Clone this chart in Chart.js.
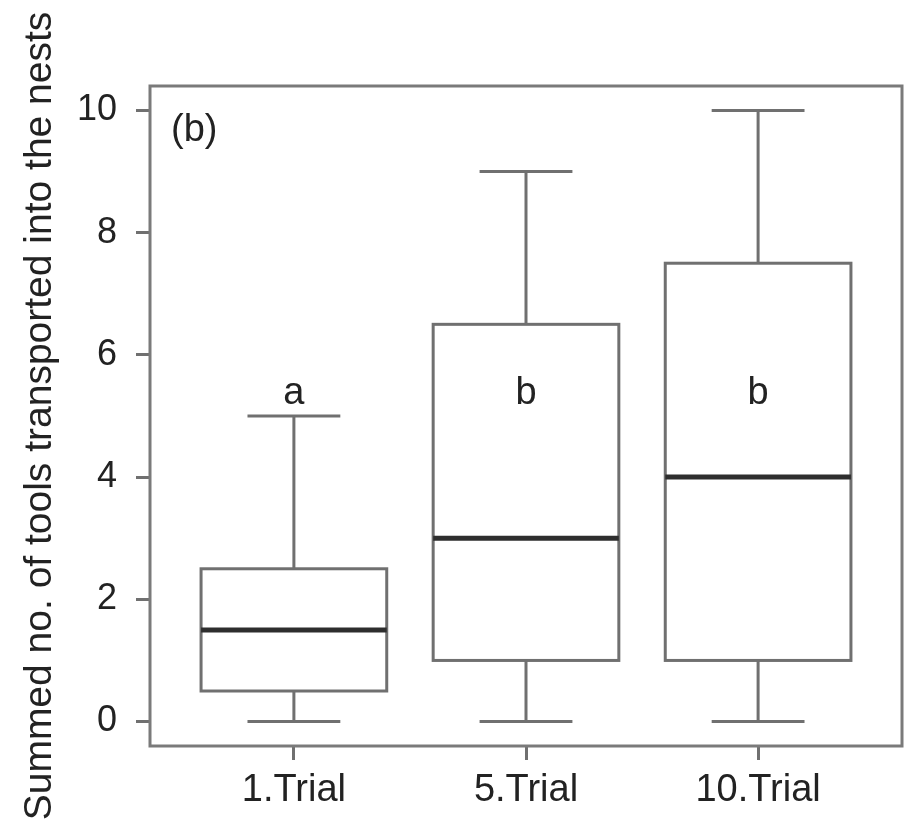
<!DOCTYPE html>
<html>
<head>
<meta charset="utf-8">
<script src="https://cdn.jsdelivr.net/npm/chart.js@4"></script>
<style>
  html, body { margin: 0; padding: 0; background: #fff; }
  #wrap { width: 913px; height: 827px; }
</style>
</head>
<body>
<div id="wrap"><canvas id="boxChart" width="913" height="827"></canvas></div>
<script>
// Chart data
const categories = ['1.Trial', '5.Trial', '10.Trial'];
const whiskerLow = [0, 0, 0];
const quartile1 = [0.5, 1, 1];
const medians = [1.5, 3, 4];
const quartile3 = [2.5, 6.5, 7.5];
const whiskerHigh = [5, 9, 10];
const groupLetters = ['a', 'b', 'b'];
const letterLevel = [5.2, 5.2, 5.2];
const yTicks = [0, 2, 4, 6, 8, 10];
const panelLabel = '(b)';

const FONT = '"Liberation Sans", Arial, sans-serif';
const LINE_GREY = '#707070';
const TEXT_DARK = '#222222';

// Draws boxes, whiskers, frame and letters through the chart scales
const boxPlotPlugin = {
    id: 'boxPlot',
    afterDatasetsDraw(chart) {
        const ctx = chart.ctx;
        const xs = chart.scales.x;
        const ys = chart.scales.y;
        const area = chart.chartArea;
        const halfBox = 0.4;
        const halfCap = 0.2;

        ctx.save();
        ctx.lineCap = 'butt';

        categories.forEach((cat, i) => {
            const pos = i + 1;
            const xc = xs.getPixelForValue(pos);
            const xl = xs.getPixelForValue(pos - halfBox);
            const xr = xs.getPixelForValue(pos + halfBox);
            const cl = xs.getPixelForValue(pos - halfCap);
            const cr = xs.getPixelForValue(pos + halfCap);
            const yLo = ys.getPixelForValue(whiskerLow[i]);
            const yQ1 = ys.getPixelForValue(quartile1[i]);
            const yMed = ys.getPixelForValue(medians[i]);
            const yQ3 = ys.getPixelForValue(quartile3[i]);
            const yHi = ys.getPixelForValue(whiskerHigh[i]);

            ctx.strokeStyle = LINE_GREY;
            ctx.lineWidth = 3;

            // whiskers
            ctx.beginPath();
            ctx.moveTo(xc, yQ1); ctx.lineTo(xc, yLo);
            ctx.moveTo(xc, yQ3); ctx.lineTo(xc, yHi);
            ctx.moveTo(cl, yLo); ctx.lineTo(cr, yLo);
            ctx.moveTo(cl, yHi); ctx.lineTo(cr, yHi);
            ctx.stroke();

            // box
            ctx.strokeRect(xl, yQ3, xr - xl, yQ1 - yQ3);

            // median
            ctx.strokeStyle = '#2e2e2e';
            ctx.lineWidth = 5;
            ctx.beginPath();
            ctx.moveTo(xl, yMed); ctx.lineTo(xr, yMed);
            ctx.stroke();

            // group letter
            ctx.fillStyle = TEXT_DARK;
            ctx.font = '38px ' + FONT;
            ctx.textAlign = 'center';
            ctx.textBaseline = 'alphabetic';
            ctx.fillText(groupLetters[i], xc, ys.getPixelForValue(letterLevel[i]));
        });

        // frame
        ctx.strokeStyle = '#7a7a7a';
        ctx.lineWidth = 3;
        ctx.strokeRect(area.left, area.top, area.right - area.left, area.bottom - area.top);

        // panel label
        ctx.fillStyle = TEXT_DARK;
        ctx.font = '38px ' + FONT;
        ctx.textAlign = 'left';
        ctx.textBaseline = 'middle';
        ctx.fillText(panelLabel, area.left + 21, area.top + 45);

        ctx.restore();
    }
};

function initChart() {
    const ctx = document.getElementById('boxChart').getContext('2d');
    new Chart(ctx, {
        type: 'scatter',
        data: {
            datasets: [{
                data: medians.map((m, i) => ({ x: i + 1, y: m })),
                pointRadius: 0,
                showLine: false
            }]
        },
        options: {
            responsive: false,
            animation: false,
            layout: { padding: { left: 0, right: 11, top: 86, bottom: 0 } },
            plugins: {
                legend: { display: false },
                tooltip: { enabled: false }
            },
            scales: {
                x: {
                    type: 'linear',
                    min: 0.38,
                    max: 3.62,
                    afterBuildTicks: scale => {
                        scale.ticks = categories.map((c, i) => ({ value: i + 1 }));
                    },
                    afterFit: scale => { scale.height = 81; },
                    border: { display: false },
                    grid: {
                        drawOnChartArea: false,
                        drawTicks: true,
                        tickLength: 14,
                        color: LINE_GREY,
                        lineWidth: 3
                    },
                    ticks: {
                        autoSkip: false,
                        maxRotation: 0,
                        padding: 8,
                        color: TEXT_DARK,
                        font: { family: FONT, size: 38 },
                        callback: value => categories[Math.round(value) - 1]
                    }
                },
                y: {
                    min: -0.4,
                    max: 10.4,
                    afterBuildTicks: scale => {
                        scale.ticks = yTicks.map(v => ({ value: v }));
                    },
                    afterFit: scale => { scale.width = 150; },
                    border: { display: false },
                    grid: {
                        drawOnChartArea: false,
                        drawTicks: true,
                        tickLength: 14,
                        color: LINE_GREY,
                        lineWidth: 3
                    },
                    ticks: {
                        padding: 19,
                        color: TEXT_DARK,
                        font: { family: FONT, size: 36 }
                    },
                    title: {
                        display: true,
                        text: 'Summed no. of tools transported into the nests',
                        color: TEXT_DARK,
                        font: { family: FONT, size: 39 },
                        padding: { top: 17, bottom: 0 }
                    }
                }
            }
        },
        plugins: [boxPlotPlugin]
    });
}

document.addEventListener('DOMContentLoaded', initChart);
</script>
</body>
</html>
